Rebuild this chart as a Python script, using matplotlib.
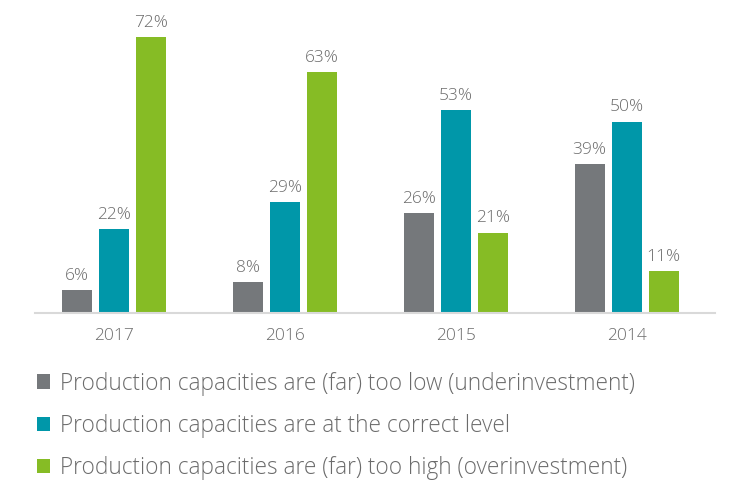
import matplotlib.pyplot as plt
import numpy as np

years = ['2017', '2016', '2015', '2014']
too_low = [6, 8, 26, 39]
correct = [22, 29, 53, 50]
too_high = [72, 63, 21, 11]
labels = ['Production capacities are (far) too low (underinvestment)',
          'Production capacities are at the correct level',
          'Production capacities are (far) too high (overinvestment)']
colors = ['#75787B', '#0097A9', '#86BC25']

plt.rcParams['font.family'] = ['Open Sans', 'DejaVu Sans']
text_color = '#6b6b6b'

fig = plt.figure(figsize=(7.3, 4.8), dpi=100)
ax = fig.add_axes([0.048, 0.348, 0.931, 0.61])

x = np.arange(len(years))
width = 0.175
offset = 0.216
handles = []
for i, (vals, col) in enumerate(zip([too_low, correct, too_high], colors)):
    bars = ax.bar(x + (i - 1) * offset, vals, width, color=col)
    handles.append(bars)
    for b, v in zip(bars, vals):
        ax.text(b.get_x() + b.get_width() / 2, v + 1.6, f'{v}%', ha='center', va='bottom',
                fontsize=12.5, color=text_color, fontweight='light')

ax.set_xlim(-0.462, 3.515)
ax.set_ylim(0, 76.5)
ax.set_xticks(x)
ax.set_xticklabels(years, fontsize=12.5, color=text_color, fontweight='light')
ax.tick_params(axis='x', length=0, pad=11)
ax.set_yticks([])
for s in ['top', 'right', 'left']:
    ax.spines[s].set_visible(False)
ax.spines['bottom'].set_color('#d9d9d9')
ax.spines['bottom'].set_linewidth(1.5)

leg = fig.legend(handles, labels, loc='upper left', bbox_to_anchor=(0.05, 0.226),
                 frameon=False, fontsize=16.3, handlelength=0.6, handleheight=0.6,
                 handletextpad=0.45, labelspacing=0.81, borderaxespad=0, borderpad=0)
for t in leg.get_texts():
    t.set_color(text_color)
    t.set_fontweight('light')

fig.savefig('out.png', dpi=100)
